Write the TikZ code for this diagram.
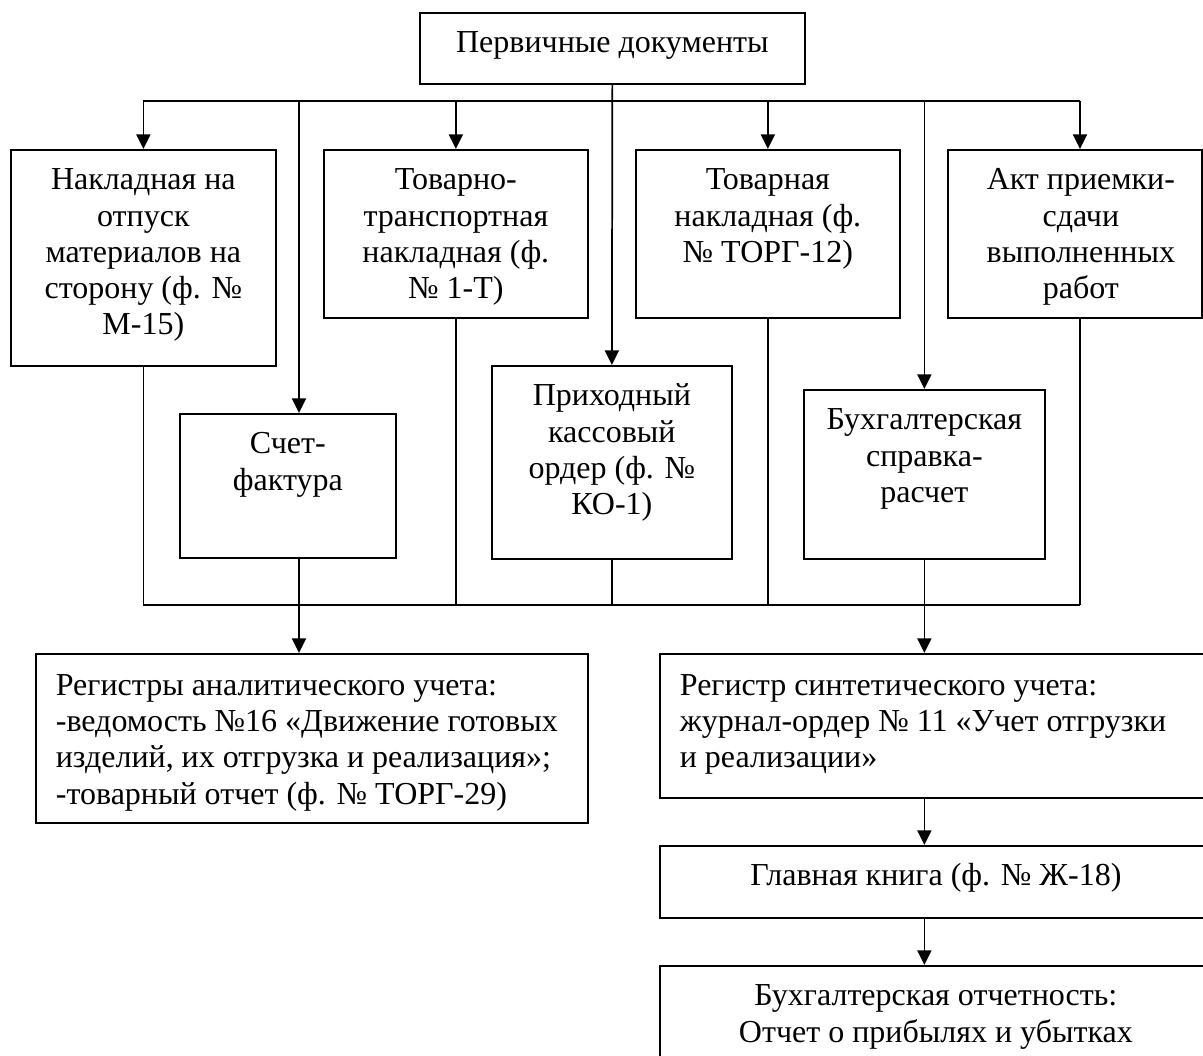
\documentclass[tikz,border=0pt]{standalone}
\usepackage{fontspec}
\setmainfont{Liberation Serif}
\usetikzlibrary{arrows.meta}

\tikzset{every picture/.style={line width=1.3pt}}
\tikzset{
  docbox/.style={draw, line width=1.3pt, inner sep=0pt, anchor=north west, font=\fontsize{24pt}{27.2pt}\selectfont},
  flow/.style={-{Triangle[width=10.5pt,length=11pt]}, line width=1.3pt},
  link/.style={line width=1pt}
}
% box contents: width, height, text (top aligned)
\newcommand{\doctext}[3]{\parbox[c][#2][t]{#1}{\centering\rule{0pt}{30pt}#3}}
\newcommand{\regtext}[3]{\parbox[c][#2][t]{#1}{\raggedright\leftskip=15pt\rule{0pt}{31pt}#3}}

\begin{document}
\begin{tikzpicture}[x=0.75pt,y=0.75pt,yscale=-1,xscale=1]
        \useasboundingbox (0,0) rectangle (1203,1056);

        % Top
        \draw (419,12) node [docbox] (top) {\doctext{288.75pt}{53.25pt}{Первичные документы}};

        % First row
        \draw (10,149) node [docbox] (nakl) {\doctext{198.75pt}{162pt}{Накладная на\\ отпуск\\ материалов на\\ сторону (ф. №\\ М-15)}};
        \draw (323,149) node [docbox] (ttn) {\doctext{198pt}{126pt}{Товарно-\\ транспортная\\ накладная (ф.\\ № 1-Т)}};
        \draw (635,149) node [docbox] (torg) {\doctext{198pt}{126pt}{Товарная\\ накладная (ф.\\ № ТОРГ-12)}};
        \draw (947,149) node [docbox] (akt) {\doctext{190.5pt}{126pt}{\leftskip=9pt plus 1fil Акт приемки-\\ сдачи\\ выполненных\\ работ}};

        % Second row
        \draw (179,413) node [docbox] (schet) {\doctext{162pt}{108pt}{Счет-\\ фактура}};
        \draw (491,365) node [docbox] (prih) {\doctext{180pt}{144.75pt}{Приходный\\ кассовый\\ ордер (ф. №\\ КО-1)}};
        \draw (803,389) node [docbox] (buh) {\doctext{180.75pt}{126.75pt}{Бухгалтерская\\ справка-\\ расчет}};

        % Registers
        \draw (35,653) node [docbox] (anal) {\regtext{414pt}{126.75pt}{Регистры аналитического учета:\\ -ведомость №16 «Движение готовых\\ изделий, их отгрузка и реализация»;\\ -товарный отчет (ф. № ТОРГ-29)}};
        \draw (659,653) node [docbox] (sint) {\regtext{414pt}{108pt}{Регистр синтетического учета:\\ журнал-ордер № 11 «Учет отгрузки\\ и реализации»}};
        \draw (659,845) node [docbox] (glav) {\doctext{414pt}{54pt}{Главная книга (ф. № Ж-18)}};
        \draw (659,965) node [docbox] (otch) {\doctext{414pt}{90pt}{Бухгалтерская отчетность:\\ Отчет о прибылях и убытках}};

        % Bus lines
        \coordinate (bus) at (0,101);
        \coordinate (col) at (0,605);
        \coordinate (sx) at (299,0);
        \coordinate (ax) at (1080,0);

        \draw[flow] (top.south) -- (prih.north);
        \draw (nakl.north |- bus) -- (ax |- bus);
        \foreach \n in {nakl,ttn,torg,buh}
            \draw[flow] (\n.north |- bus) -- (\n.north);
        \draw[flow] (sx |- bus) -- (sx |- schet.north);
        \draw[flow] (ax |- bus) -- (ax |- akt.north);

        \foreach \n in {nakl,ttn,prih,torg}
            \draw[link] (\n.south) -- (\n.south |- col);
        \draw[link] (ax |- akt.south) -- (ax |- col);
        \draw[link] (nakl.south |- col) -- (ax |- col);

        \draw[flow] (sx |- schet.south) -- (sx |- anal.north);
        \draw[flow] (buh.south) -- (buh.south |- sint.north);
        \draw[flow] (buh.south |- sint.south) -- (buh.south |- glav.north);
        \draw[flow] (buh.south |- glav.south) -- (buh.south |- otch.north);

\end{tikzpicture}
\end{document}
